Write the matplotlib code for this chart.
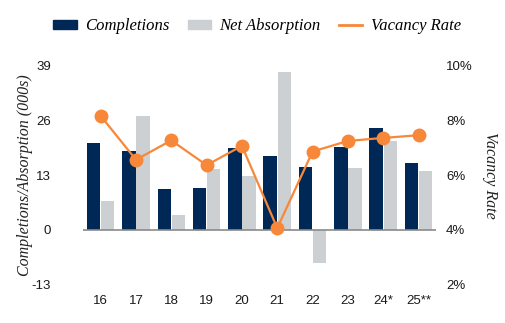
import matplotlib
matplotlib.use("Agg")
import matplotlib.pyplot as plt
import numpy as np
from matplotlib.lines import Line2D
from matplotlib.patches import Patch

years = ["16", "17", "18", "19", "20", "21", "22", "23", "24*", "25**"]
completions = [20.7, 18.7, 9.7, 9.9, 19.5, 17.6, 14.9, 19.7, 24.1, 15.9]
net_absorption = [6.8, 27.0, 3.4, 14.5, 12.8, 37.6, -8.1, 14.7, 21.2, 14.0]
vacancy_rate = [8.17, 6.56, 7.27, 6.36, 7.07, 4.05, 6.86, 7.25, 7.36, 7.46]

navy = "#002856"
grey = "#CDD0D3"
orange = "#F7883A"
serif_it = dict(family="Liberation Serif", style="italic")
plt.rcParams["axes.unicode_minus"] = False

fig = plt.figure(figsize=(5.06, 3.23), dpi=100)
ax = fig.add_axes([0.164, 0.1207, 0.698, 0.675])
ax2 = ax.twinx()

x = np.arange(len(years))
w = 0.38
ax.bar(x - w / 2 - 0.01, completions, width=w, color=navy, zorder=2)
ax.bar(x + w / 2 + 0.01, net_absorption, width=w, color=grey, zorder=2)
ax.axhline(0, color="#8a8a8a", lw=1.2, zorder=3)

ax2.plot(x, vacancy_rate, color=orange, lw=1.6, marker="o", ms=9, zorder=4)

ax.set_xlim(-0.5, len(years) - 0.5)
ax.set_ylim(-13, 39)
ax.set_yticks([-13, 0, 13, 26, 39])
ax2.set_ylim(2, 10)
ax2.set_yticks([2, 4, 6, 8, 10])
ax2.set_yticklabels([f"{v}%" for v in [2, 4, 6, 8, 10]])

ax.set_xticks(x)
ax.set_xticklabels(years)

for a in (ax, ax2):
    for s in a.spines.values():
        s.set_visible(False)
ax.tick_params(axis="both", length=0, labelsize=9.5, colors="#1a1a1a")
ax.tick_params(axis="y", pad=23)
ax.tick_params(axis="x", pad=8)
ax2.tick_params(axis="y", length=0, labelsize=9.5, colors="#1a1a1a", pad=7)
for lab in ax.get_xticklabels() + ax.get_yticklabels() + ax2.get_yticklabels():
    lab.set_family("Liberation Sans")

ax.set_ylabel("Completions/Absorption (000s)", fontsize=11.5, color="#222222",
              labelpad=-1, **serif_it)
ax2.set_ylabel("Vacancy Rate", fontsize=11.5, color="#222222", rotation=270,
               labelpad=18, **serif_it)

handles = [
    Patch(color=navy, label="Completions"),
    Patch(color=grey, label="Net Absorption"),
    Line2D([0], [0], color=orange, lw=2, label="Vacancy Rate"),
]
fig.legend(handles=handles, loc="upper center", bbox_to_anchor=(0.508, 0.99),
           ncol=3, frameon=False, handlelength=1.4, handleheight=0.45,
           columnspacing=1.1, handletextpad=0.5,
           prop=dict(family="Liberation Serif", style="italic", size=12))

fig.savefig("out.png", dpi=100)
